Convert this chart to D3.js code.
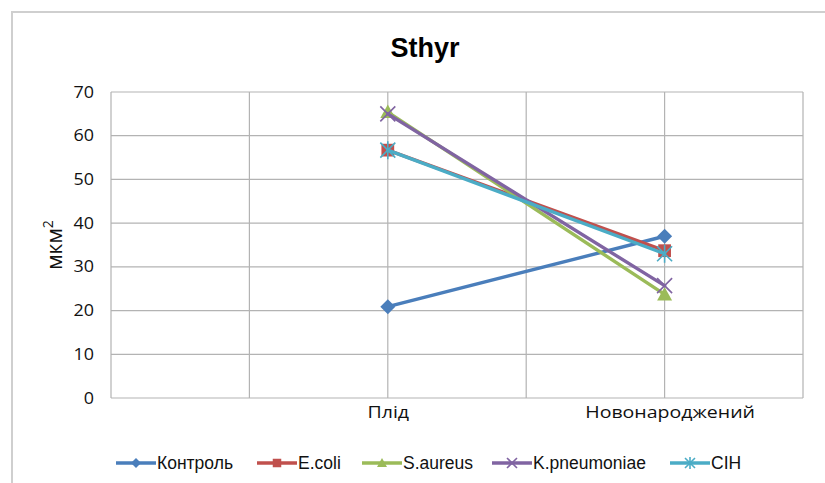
<!DOCTYPE html>
<html>
<head>
<meta charset="utf-8">
<script src="https://cdn.jsdelivr.net/npm/d3@7"></script>
<style>
  html, body { margin: 0; padding: 0; background: #fff; }
  svg { display: block; }
</style>
</head>
<body>
<svg id="chart" width="825" height="483"></svg>
<script>
// Category slots along the x axis; only the two named ones carry data
const slots = ["s0", "s1", "Плід", "s3", "Новонароджений", "s5"];
const categories = ["Плід", "Новонароджений"];
const seriesNames = ["Контроль", "E.coli", "S.aureus", "K.pneumoniae", "CIH"];
const kontrol = [20.9, 37.0];
const ecoli = [56.7, 33.7];
const saureus = [65.4, 23.7];
const kpneumoniae = [65.0, 25.7];
const cih = [56.7, 33.0];
const yTicks = [0, 10, 20, 30, 40, 50, 60, 70];

const seriesValues = [kontrol, ecoli, saureus, kpneumoniae, cih];
const colors = ["#4A7EBB", "#C0504D", "#9BBB59", "#8064A2", "#4BACC6"];
const markers = ["diamond", "square", "triangle", "x", "star"];

const svg = d3.select("#chart");
const W = 825, H = 483;
const m = { left: 111, right: 803, top: 92, bottom: 398 };

// Outer chart frame
svg.append("rect")
  .attr("x", 12).attr("y", 12)
  .attr("width", W + 20).attr("height", H + 20)
  .attr("fill", "#fff").attr("stroke", "#cfcfcf").attr("stroke-width", 2);

const x = d3.scalePoint().domain(slots).range([m.left, m.right]);
const y = d3.scaleLinear().domain([0, 70]).range([m.bottom, m.top]);

const body = "'Open Sans', 'Noto Sans', sans-serif";
const legendFont = "'Liberation Sans', Arial, sans-serif";

// Title
svg.append("text")
  .attr("x", 425).attr("y", 57)
  .attr("text-anchor", "middle")
  .attr("font-family", legendFont)
  .attr("font-weight", "bold")
  .attr("font-size", 27)
  .attr("fill", "#000")
  .text("Sthyr");

// Horizontal gridlines
svg.append("g").selectAll("line").data(yTicks).join("line")
  .attr("x1", m.left).attr("x2", m.right)
  .attr("y1", d => y(d)).attr("y2", d => y(d))
  .attr("stroke", "#b3b3b3").attr("stroke-width", 1.2);

// Vertical gridlines
svg.append("g").selectAll("line").data(slots).join("line")
  .attr("x1", d => x(d)).attr("x2", d => x(d))
  .attr("y1", m.top).attr("y2", m.bottom)
  .attr("stroke", "#b3b3b3").attr("stroke-width", 1.2);

// Y axis
const yAxis = svg.append("g")
  .attr("transform", `translate(${m.left},0)`)
  .call(d3.axisLeft(y).tickValues(yTicks).tickSize(0).tickPadding(17));
yAxis.select(".domain").remove();
yAxis.selectAll("text")
  .attr("x", 0)
  .attr("transform", "translate(-17,0) scale(1.12,1)")
  .attr("font-family", body).attr("font-size", 16).attr("fill", "#111");

// X axis
const xAxis = svg.append("g")
  .attr("transform", `translate(0,${m.bottom})`)
  .call(d3.axisBottom(x).tickSize(0).tickPadding(8)
    .tickFormat(d => categories.includes(d) ? d : ""));
xAxis.select(".domain").remove();
xAxis.selectAll("text")
  .attr("transform", d => d === "Новонароджений" ? "translate(5,0) scale(1.15,1)" : "scale(1.15,1)")
  .attr("font-family", body).attr("font-size", 17).attr("fill", "#111");

// Y axis title
const yt = svg.append("text")
  .attr("transform", `translate(62,${(m.top + m.bottom) / 2}) rotate(-90)`)
  .attr("text-anchor", "middle")
  .attr("font-family", body).attr("font-size", 21).attr("fill", "#111");
yt.append("tspan").text("мкм");
yt.append("tspan").attr("dy", -9).attr("font-size", 14).text("2");

function drawMarker(g, type, color, size) {
  const s = size;
  if (type === "diamond") {
    g.append("path").attr("d", `M0,${-s}L${s},0L0,${s}L${-s},0Z`).attr("fill", color);
  } else if (type === "square") {
    g.append("rect").attr("x", -s * 0.85).attr("y", -s * 0.85)
      .attr("width", s * 1.7).attr("height", s * 1.7).attr("fill", color);
  } else if (type === "triangle") {
    g.append("path").attr("d", `M0,${-s}L${s},${s * 0.8}L${-s},${s * 0.8}Z`).attr("fill", color);
  } else if (type === "x") {
    g.append("path").attr("d", `M${-s},${-s}L${s},${s}M${-s},${s}L${s},${-s}`)
      .attr("stroke", color).attr("stroke-width", 1.6).attr("fill", "none");
  } else if (type === "star") {
    g.append("path")
      .attr("d", `M${-s},${-s}L${s},${s}M${-s},${s}L${s},${-s}M0,${-s * 1.2}L0,${s * 1.2}`)
      .attr("stroke", color).attr("stroke-width", 1.6).attr("fill", "none");
  }
}

// Series lines and markers
const line = d3.line().x(d => x(d.cat)).y(d => y(d.v));
seriesValues.forEach((vals, i) => {
  const pts = categories.map((c, j) => ({ cat: c, v: vals[j] }));
  svg.append("path")
    .datum(pts)
    .attr("d", line)
    .attr("fill", "none")
    .attr("stroke", colors[i])
    .attr("stroke-width", 3.4)
    .attr("stroke-linecap", "round");
  pts.forEach(p => {
    const g = svg.append("g").attr("transform", `translate(${x(p.cat)},${y(p.v)})`);
    drawMarker(g, markers[i], colors[i], 7.5);
  });
});

// Legend
const legendX = [116, 257, 362, 492, 670];
const legendY = 463;
seriesNames.forEach((name, i) => {
  const g = svg.append("g").attr("transform", `translate(${legendX[i]},${legendY})`);
  g.append("line").attr("x1", 0).attr("x2", 40).attr("y1", 0).attr("y2", 0)
    .attr("stroke", colors[i]).attr("stroke-width", 3.4);
  const mk = g.append("g").attr("transform", "translate(20,0)");
  drawMarker(mk, markers[i], colors[i], 5);
  g.append("text").attr("x", 41).attr("y", 0).attr("dy", "0.36em")
    .attr("font-family", legendFont).attr("font-size", 17.5).attr("fill", "#111")
    .text(name);
});
</script>
</body>
</html>
